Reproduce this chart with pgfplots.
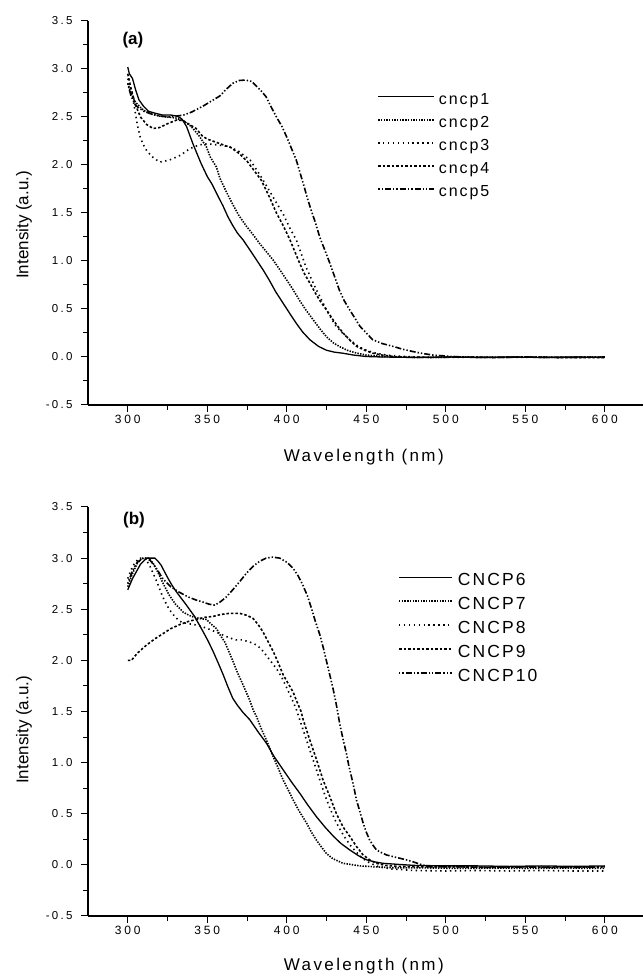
\documentclass[border=0pt]{standalone}
\usepackage{pgfplots}
\pgfplotsset{compat=1.18}
\usepackage{fontspec}
\setmainfont{Liberation Sans}
\newfontfamily\tickfont[LetterSpace=24]{Liberation Sans}
\newfontfamily\yfont[LetterSpace=20]{Liberation Sans}
\newfontfamily\titlefont[LetterSpace=14]{Liberation Sans}
\newfontfamily\legfont[LetterSpace=12]{Liberation Sans}
\begin{document}
\begin{tikzpicture}
\path[use as bounding box] (0,0) rectangle (643pt,976pt);
\pgfplotsset{
  spec/.style={
    scale only axis, width=555pt,
    xmin=275, xmax=624, ymin=-0.5, ymax=3.5,
    axis lines=left, axis line style={-, line width=1.2pt},
    tick align=outside, major tick length=7pt, minor tick length=5pt,
    tick style={line width=1pt, black},
    xtick={300,350,400,450,500,550,600},
    xticklabels={300,350,400,450,500,550,600},
    minor xtick={325,375,425,475,525,575},
    ytick={-0.5,0,0.5,1,1.5,2,2.5,3,3.5},
    yticklabels={-0.5,0.0,0.5,1.0,1.5,2.0,2.5,3.0,3.5},
    minor ytick={-0.25,0.25,0.75,1.25,1.75,2.25,2.75,3.25},
    xticklabel style={font=\tickfont\fontsize{12}{14}\selectfont},
    yticklabel style={font=\yfont\fontsize{11.5}{13}\selectfont, xshift=-5pt},
    every axis y label/.style={rotate=90, anchor=center, font=\fontsize{17}{20}\selectfont},
    every axis x label/.style={anchor=center, font=\titlefont\fontsize{17}{20}\selectfont},
    ylabel={Intensity (a.u.)},
    xlabel={Wavelength (nm)},
    legend cell align=left,
    clip=false,
  },
  s1/.style={black, line width=1.3pt, solid},
  s2/.style={black, line width=1.6pt, dash pattern=on 1.4pt off 1.3pt},
  s3/.style={black, line width=1.6pt, dash pattern=on 1.4pt off 3.5pt},
  s4/.style={black, line width=1.6pt, dash pattern=on 2.5pt off 2pt},
  s5/.style={black, line width=1.6pt, dash pattern=on 1.4pt off 2pt on 1.4pt off 2pt on 6pt off 2pt},
}
% ---------------- panel (a) ----------------
\begin{axis}[spec, at={(88pt,571pt)}, anchor=south west, height=384pt,
  xlabel style={at={(axis description cs:0.497,-0.135)}},
  ylabel style={at={(axis description cs:-0.1153,0.469)}},
  legend image code/.code={\draw[#1] (0pt,3.5pt) -- (56pt,3.5pt);},
  legend style={draw=none, fill=none, at={(rel axis cs:0.521,0.815)}, anchor=north west,
    inner sep=0pt, row sep=7pt,
    nodes={inner sep=0pt, text height=12pt, text depth=4pt, font=\legfont\fontsize{16}{18}\selectfont},
    /tikz/every odd column/.append style={column sep=4pt}},
]
\node[font=\bfseries\fontsize{17}{20}\selectfont] at (rel axis cs:0.081,0.9505) {(a)};
\addplot[s1] coordinates {
(300,3.02)(301,2.95)(303,2.90)(305,2.78)(307,2.68)(310,2.61)(313,2.56)(317,2.54)(322,2.52)(327,2.52)(331,2.51)(334,2.48)(337,2.40)(341,2.22)(346,2.02)(350,1.88)(353,1.80)(356,1.70)(360,1.57)(363,1.46)(366,1.37)(369,1.29)(372.5,1.22)(377,1.11)(381,1.01)(385,0.91)(389,0.80)(393,0.68)(397.7,0.56)(402,0.45)(406,0.35)(410,0.26)(414.5,0.18)(420,0.11)(425,0.07)(430,0.05)(435,0.04)(442,0.02)(450,0.005)(460,0)(480,-0.005)(500,0)(520,-0.005)(540,0)(560,-0.005)(580,0)(600,-0.005)};
\addlegendentry{cncp1}
\addplot[s2] coordinates {
(300,2.85)(302,2.75)(305,2.65)(310,2.57)(315,2.53)(320,2.51)(325,2.50)(330,2.49)(335,2.46)(340,2.40)(345,2.30)(349.4,2.19)(352,2.08)(355.7,1.98)(358,1.86)(362,1.72)(366,1.59)(370,1.47)(374.7,1.36)(379,1.27)(383,1.18)(387,1.10)(391.4,1.01)(396,0.90)(400,0.80)(404,0.70)(408,0.59)(412,0.49)(416.5,0.39)(421,0.29)(425,0.21)(429,0.15)(433,0.11)(438,0.07)(444,0.04)(450,0.02)(460,0.005)(470,0)(490,-0.005)(510,0)(530,-0.005)(550,0)(570,-0.005)(600,0)};
\addlegendentry{cncp2}
\addplot[s3] coordinates {
(300,2.90)(302,2.80)(304,2.62)(306,2.42)(308,2.28)(311,2.17)(315,2.09)(320,2.03)(326,2.05)(333,2.10)(339,2.17)(345,2.21)(350,2.22)(356,2.21)(364,2.19)(370,2.14)(377,2.05)(383,1.90)(387,1.79)(393,1.62)(398,1.48)(402,1.34)(406,1.22)(409,1.08)(412,0.94)(415.5,0.81)(418.6,0.70)(422,0.59)(425,0.49)(428,0.40)(431,0.32)(435,0.25)(439.6,0.18)(445,0.11)(450,0.07)(456,0.04)(462.6,0.02)(470,0.01)(480,0)(500,-0.005)(520,0)(540,-0.005)(560,0)(580,-0.005)(600,0)};
\addlegendentry{cncp3}
\addplot[s4] coordinates {
(300,2.95)(302,2.80)(305,2.62)(308,2.50)(312,2.42)(316,2.38)(320,2.39)(325,2.43)(331,2.47)(335,2.46)(338,2.43)(343,2.38)(347,2.30)(350,2.27)(355,2.24)(360,2.21)(365,2.18)(370,2.12)(375,2.04)(380,1.93)(384,1.84)(389,1.67)(393.5,1.50)(398,1.36)(402,1.22)(405,1.10)(408,0.98)(411,0.87)(414.5,0.77)(417.5,0.68)(420.7,0.59)(425,0.49)(429,0.39)(432,0.32)(435.4,0.25)(440,0.17)(444,0.11)(449,0.07)(454,0.04)(460,0.02)(470,0)(490,-0.005)(510,0)(530,-0.005)(550,0)(570,-0.005)(600,-0.005)};
\addlegendentry{cncp4}
\addplot[s5] coordinates {
(300,2.85)(302,2.72)(305,2.62)(310,2.56)(315,2.53)(320,2.51)(326,2.50)(331,2.51)(335,2.52)(340,2.55)(347,2.61)(352,2.66)(358,2.72)(362,2.79)(366,2.85)(370,2.88)(374,2.885)(378,2.87)(381,2.82)(384,2.77)(387,2.71)(390,2.61)(393.5,2.50)(397,2.40)(400,2.29)(403,2.17)(406,2.05)(408.5,1.91)(411,1.77)(413,1.65)(415.5,1.52)(418,1.40)(420.7,1.25)(424,1.11)(427,0.98)(430,0.84)(433,0.70)(436,0.59)(439.6,0.49)(443,0.40)(446,0.32)(450,0.25)(454,0.18)(460,0.14)(467,0.11)(473,0.08)(479.5,0.056)(486,0.035)(492,0.02)(500,0.01)(510,0)(530,-0.005)(550,0)(570,-0.005)(600,0)};
\addlegendentry{cncp5}
\end{axis}
% ---------------- panel (b) ----------------
\begin{axis}[spec, at={(88pt,60pt)}, anchor=south west, height=409pt,
  xlabel style={at={(axis description cs:0.497,-0.1222)}},
  ylabel style={at={(axis description cs:-0.1153,0.455)}},
  legend image code/.code={\draw[#1] (0pt,4pt) -- (53pt,4pt);},
  legend style={draw=none, fill=none, at={(rel axis cs:0.5586,0.841)}, anchor=north west,
    inner sep=0pt, row sep=6pt,
    nodes={inner sep=0pt, text height=13pt, text depth=5pt, font=\legfont\fontsize{17.5}{20}\selectfont},
    /tikz/every odd column/.append style={column sep=5pt}},
]
\node[font=\bfseries\fontsize{17}{20}\selectfont] at (rel axis cs:0.0829,0.968) {(b)};
\addplot[s1] coordinates {
(300,2.69)(303,2.80)(305.5,2.87)(308,2.94)(311.8,3.0)(317,3.0)(319,2.97)(321,2.93)(323,2.87)(325.4,2.80)(328,2.73)(330.6,2.67)(334,2.60)(336.9,2.54)(342,2.43)(347.4,2.28)(350.5,2.19)(353.6,2.09)(357,1.97)(360,1.86)(363,1.74)(366,1.63)(369,1.56)(372.5,1.49)(376.7,1.42)(382,1.30)(387.2,1.19)(392,1.06)(397.7,0.93)(403,0.81)(408.2,0.70)(413,0.59)(418.7,0.47)(424,0.37)(429.3,0.28)(434,0.21)(439.6,0.146)(445,0.09)(450,0.05)(455,0.03)(460.6,0.015)(470,0.005)(480,-0.005)(500,-0.01)(520,-0.01)(540,-0.015)(560,-0.01)(580,-0.015)(600,-0.01)};
\addlegendentry{CNCP6}
\addplot[s2] coordinates {
(300,2.72)(303,2.85)(306,2.95)(309,3.0)(313,3.0)(316,2.95)(319,2.86)(322,2.76)(326,2.64)(330,2.55)(335,2.47)(340,2.43)(345,2.41)(349.5,2.40)(352,2.36)(355.8,2.31)(358,2.25)(361,2.18)(363.5,2.09)(366.2,1.99)(369,1.88)(372.5,1.76)(376.7,1.61)(379,1.51)(381,1.45)(384,1.33)(387.2,1.22)(391.4,1.06)(394.5,0.95)(397.7,0.83)(401,0.73)(404,0.635)(408,0.52)(412.4,0.41)(415.5,0.32)(418.7,0.24)(422,0.17)(425,0.11)(429,0.06)(435.4,0.015)(446,-0.01)(456.4,-0.02)(470,-0.03)(490,-0.03)(510,-0.035)(530,-0.03)(550,-0.035)(570,-0.03)(600,-0.035)};
\addlegendentry{CNCP7}
\addplot[s3] coordinates {
(300,2.80)(303,2.92)(307,3.0)(311,3.0)(314,2.92)(318,2.78)(322,2.62)(326,2.50)(330,2.42)(334,2.37)(338,2.36)(345,2.34)(352,2.30)(358,2.26)(364,2.22)(368,2.20)(372,2.20)(376.7,2.18)(381,2.15)(384,2.11)(387,2.05)(390,1.99)(393.5,1.92)(397,1.83)(400,1.73)(403,1.63)(406,1.52)(409,1.38)(412,1.24)(415,1.10)(418,0.96)(421,0.82)(424,0.68)(427,0.56)(430,0.45)(433,0.36)(436,0.28)(440,0.19)(444,0.12)(448,0.06)(452,0.02)(458,-0.02)(466,-0.04)(480,-0.055)(500,-0.06)(520,-0.055)(540,-0.06)(560,-0.055)(580,-0.06)(600,-0.06)};
\addlegendentry{CNCP8}
\addplot[s4] coordinates {
(300,2.00)(302.3,2.00)(306,2.07)(311.8,2.15)(317,2.21)(322,2.26)(327,2.31)(332.7,2.35)(338,2.38)(343,2.40)(348,2.42)(353.6,2.43)(359,2.45)(364,2.46)(370.4,2.46)(375,2.44)(378.8,2.41)(382,2.35)(385,2.28)(388,2.19)(391.4,2.09)(394.5,1.98)(397.7,1.86)(401,1.77)(404,1.69)(406,1.61)(409,1.50)(410.3,1.42)(414.5,1.22)(418.7,1.03)(422.8,0.83)(427,0.67)(431.2,0.50)(435.4,0.37)(439.6,0.28)(443.8,0.18)(448,0.097)(452.2,0.048)(456.4,0.015)(462,-0.005)(470,-0.015)(490,-0.02)(510,-0.02)(530,-0.025)(550,-0.02)(570,-0.025)(600,-0.02)};
\addlegendentry{CNCP9}
\addplot[s5] coordinates {
(300,2.75)(303,2.88)(306,2.96)(310,3.0)(314,2.98)(318,2.90)(322,2.80)(327,2.72)(332,2.67)(338,2.62)(343,2.59)(347.4,2.57)(351,2.55)(354.7,2.54)(358,2.57)(362,2.62)(366,2.69)(370.4,2.77)(374.5,2.85)(378.8,2.92)(383,2.97)(387,3.0)(391,3.01)(395.6,3.0)(400,2.96)(404,2.90)(407,2.83)(410,2.74)(413,2.63)(415.5,2.51)(418,2.38)(420.8,2.25)(423,2.12)(425,1.99)(427,1.86)(429,1.73)(431,1.58)(433.3,1.38)(435.5,1.22)(437.5,1.09)(439,0.97)(440.7,0.86)(442.3,0.75)(443.8,0.635)(446,0.52)(448,0.41)(450,0.32)(452.2,0.24)(454.3,0.19)(456.4,0.146)(459.5,0.12)(462.7,0.097)(467,0.08)(471,0.065)(475,0.05)(479.4,0.03)(485,0.0)(490,-0.02)(510,-0.02)(530,-0.025)(550,-0.02)(570,-0.025)(600,-0.02)};
\addlegendentry{CNCP10}
\end{axis}
\end{tikzpicture}
\end{document}
